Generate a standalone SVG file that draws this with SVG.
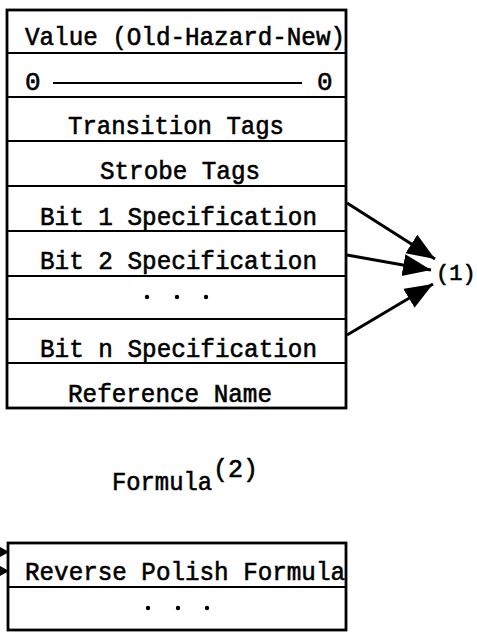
<svg xmlns="http://www.w3.org/2000/svg" width="477" height="632" viewBox="0 0 477 632">
  <style>
    .t { font-family: "Liberation Mono", "Courier New", monospace; font-size: 26px; fill: #000; stroke: #000; stroke-width: 0.6; }
    .small { font-size: 22px; }
    .box { fill: none; stroke: #000; stroke-width: 2.8; }
    .sep { stroke: #000; stroke-width: 2.2; }
    .conn { stroke: #000; stroke-width: 3; fill: none; }
    .dot { fill: #000; }
  </style>
  <defs>
    <marker id="head" markerUnits="userSpaceOnUse" markerWidth="32" markerHeight="24" refX="28" refY="11" orient="auto">
      <path d="M0,0 L28,11 L0,22 Z" fill="#000"/>
    </marker>
  </defs>
  <rect width="477" height="632" fill="#fff"/>

  <!-- record layout -->
  <g id="record">
    <rect class="box" x="7" y="10" width="339" height="398"/>
    <line class="sep" x1="7" y1="53" x2="346" y2="53"/>
    <line class="sep" x1="7" y1="97" x2="346" y2="97"/>
    <line class="sep" x1="7" y1="141" x2="346" y2="141"/>
    <line class="sep" x1="7" y1="186" x2="346" y2="186"/>
    <line class="sep" x1="7" y1="231" x2="346" y2="231"/>
    <line class="sep" x1="7" y1="276" x2="346" y2="276"/>
    <line class="sep" x1="7" y1="319" x2="346" y2="319"/>
    <line class="sep" x1="7" y1="363" x2="346" y2="363"/>

    <text class="t" x="25" y="45" textLength="320" lengthAdjust="spacingAndGlyphs">Value (Old-Hazard-New)</text>
    <text class="t" x="25" y="90">0</text>
    <line x1="53" y1="83" x2="302" y2="83" stroke="#000" stroke-width="2"/>
    <text class="t" x="317" y="90">0</text>
    <text class="t" x="68" y="134" textLength="216" lengthAdjust="spacingAndGlyphs">Transition Tags</text>
    <text class="t" x="100" y="179" textLength="160" lengthAdjust="spacingAndGlyphs">Strobe Tags</text>
    <text class="t" x="40" y="225" textLength="277" lengthAdjust="spacingAndGlyphs">Bit 1 Specification</text>
    <text class="t" x="40" y="269" textLength="277" lengthAdjust="spacingAndGlyphs">Bit 2 Specification</text>
    <circle class="dot" cx="147" cy="297" r="2.2"/>
    <circle class="dot" cx="177" cy="297" r="2.2"/>
    <circle class="dot" cx="206" cy="297" r="2.2"/>
    <text class="t" x="40" y="357" textLength="277" lengthAdjust="spacingAndGlyphs">Bit n Specification</text>
    <text class="t" x="68" y="402" textLength="204" lengthAdjust="spacingAndGlyphs">Reference Name</text>
  </g>

  <!-- footnote marker -->
  <g id="note1">
    <text class="t small" x="436" y="280">(1)</text>
  </g>

  <!-- formula heading -->
  <g id="formula-title">
    <text class="t" x="112" y="490" textLength="100" lengthAdjust="spacingAndGlyphs">Formula</text>
    <text class="t" x="213" y="477" textLength="45" lengthAdjust="spacingAndGlyphs">(2)</text>
  </g>

  <!-- formula record -->
  <g id="formula">
    <rect class="box" x="8" y="543" width="338" height="87"/>
    <line class="sep" x1="8" y1="587" x2="346" y2="587"/>
    <text class="t" x="25" y="580" textLength="320" lengthAdjust="spacingAndGlyphs">Reverse Polish Formula</text>
    <circle class="dot" cx="148" cy="608" r="2.2"/>
    <circle class="dot" cx="178" cy="608" r="2.2"/>
    <circle class="dot" cx="207" cy="608" r="2.2"/>
  </g>

  <!-- connectors -->
  <g id="connectors">
    <line class="conn" x1="347" y1="203" x2="435" y2="259" marker-end="url(#head)"/>
    <line class="conn" x1="347" y1="255" x2="431" y2="270" marker-end="url(#head)"/>
    <line class="conn" x1="347" y1="335" x2="433" y2="284" marker-end="url(#head)"/>
    <path d="M0,547 L9,552 L0,557 Z" fill="#000"/>
    <path d="M0,566 L9,571 L0,576 Z" fill="#000"/>
  </g>
</svg>
